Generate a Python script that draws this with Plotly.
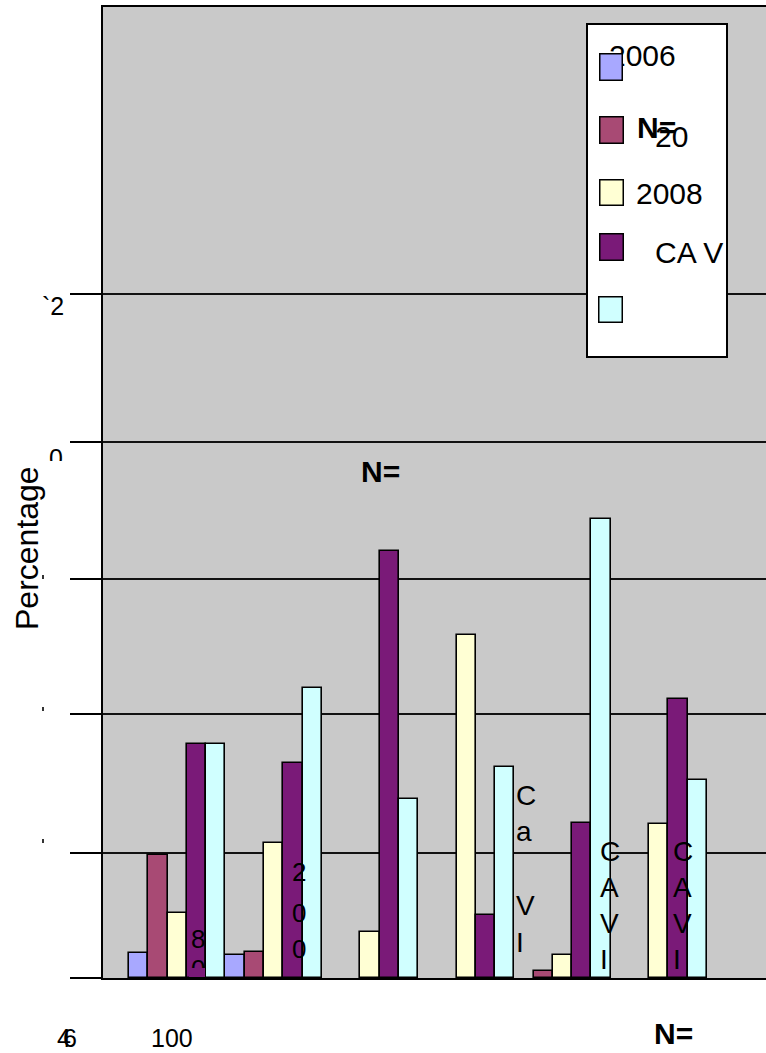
import plotly.graph_objects as go

# ---------------- data ----------------
categories = ["G1", "G2", "G3", "G4", "G5", "G6"]
series_names = ["2006", "N=20", "2008", "CA V", ""]
s2006 = [1.8, 1.7, None, None, None, None]
s_n20 = [9.0, 1.9, None, None, 0.5, None]
s2008 = [4.8, 9.9, 3.4, 25.2, 1.7, 11.3]
s_cav = [17.2, 15.8, 31.3, 4.6, 11.4, 20.5]
s_last = [17.2, 21.3, 13.1, 15.5, 33.7, 14.5]
series = [s2006, s_n20, s2008, s_cav, s_last]
colors = ["#a8a8ff", "#a84a74", "#ffffd4", "#7a1a78", "#d0ffff"]
grid_vals = [0, 9.2, 19.4, 29.3, 39.3, 50.2]
y_title = "Percentage"
x_labels = ["100", "N="]

# ---------------- layout helpers ----------------
W, H = 766, 1053
L, R, T, B = 103, 0, 7, 75
PW = W - L - R
PH = H - T - B
FONT = "Liberation Sans, Arial, sans-serif"


def px(x):
    return (x - L) / PW


def py(y):
    return (H - B - y) / PH


annotations = []


def txt(s, x, y, size, bold=False, anchor="center", angle=0):
    annotations.append(dict(
        x=px(x), y=py(y), xref="paper", yref="paper", text=("<b>%s</b>" % s) if bold else s,
        showarrow=False, xanchor=anchor, yanchor="middle", textangle=angle,
        font=dict(size=size, color="black", family=FONT)))


def box(x0, y0, x1, y1, color, border=0):
    annotations.append(dict(
        x=px((x0 + x1) / 2), y=py((y0 + y1) / 2), xref="paper", yref="paper", text=" ",
        showarrow=False, xanchor="center", yanchor="middle",
        width=x1 - x0, height=y1 - y0, borderpad=0, bgcolor=color,
        bordercolor="black", borderwidth=border, font=dict(size=4)))


fig = go.Figure()
for name, vals, col in zip(series_names, series, colors):
    fig.add_trace(go.Bar(x=categories, y=vals, name=name, marker=dict(color=col, line=dict(color="black", width=1.6)),
                         showlegend=False))

# legend (drawn manually)
shapes = [dict(type="rect", xref="paper", yref="paper", x0=px(587), x1=px(727), y0=py(24), y1=py(357),
               fillcolor="white", line=dict(color="black", width=2), layer="above")]
for (xd, yd) in [(43, 577), (43, 709), (43, 841)]:
    shapes.append(dict(type="rect", xref="paper", yref="paper", x0=px(xd - 1), x1=px(xd + 1),
                       y0=py(yd - 2), y1=py(yd + 2), fillcolor="#333", line=dict(width=0)))

txt("2006", 642, 55, 30)
box(600, 55, 621, 80, colors[0], 1.5)
txt("N=", 656, 127, 30, bold=True)
txt("20", 671, 137, 30)
box(600, 118, 622, 143, colors[1], 1.5)
txt("2008", 669, 193, 30)
box(600, 180, 622, 204, colors[2], 1.5)
txt("CA V", 689, 252, 30)
box(600, 235, 622, 260, colors[3], 1.5)
box(599, 297, 621, 321, colors[4], 1.5)

# in-plot texts
txt("N=", 380, 471, 30, bold=True)
for ch, yy in [("C", 795), ("a", 831), ("V", 905), ("I", 942)]:
    txt(ch, 514, yy, 28, anchor="left")
for ch, yy in [("C", 851), ("A", 888), ("V", 923), ("I", 959)]:
    txt(ch, 598, yy, 28, anchor="left")
for ch, yy in [("C", 851), ("A", 888), ("V", 923), ("I", 959)]:
    txt(ch, 671, yy, 28, anchor="left")
for ch, yy in [("2", 872), ("0", 913), ("0", 949)]:
    txt(ch, 290, yy, 26, anchor="left")
txt("8", 189, 939, 26, anchor="left")
txt("0", 189, 969, 26, anchor="left")
box(189, 968, 205, 977, colors[3])

# axis-side texts
txt("`2", 40, 306, 25, anchor="left")
txt("0", 56, 458, 25)
box(46, 461, 66, 472, "white")
txt(y_title, 27, 548, 32, angle=-90)
txt("4", 64, 1038, 25)
txt("6", 70, 1038, 25)
txt(x_labels[0], 172, 1038, 25)
txt(x_labels[1], 673, 1033, 30, bold=True)

fig.update_layout(
    width=W, height=H, margin=dict(l=L, r=R, t=T, b=B, pad=0),
    paper_bgcolor="white", plot_bgcolor="#c9c9c9",
    barmode="group", bargap=0, bargroupgap=0,
    showlegend=False, annotations=annotations, shapes=shapes,
    xaxis=dict(range=[-0.772, 6.113], showticklabels=False, ticks="", showgrid=False,
               showline=True, linecolor="black", linewidth=1.5, mirror=True, zeroline=False),
    yaxis=dict(range=[0, PH / 13.63], tickmode="array", tickvals=grid_vals, showticklabels=False,
               ticks="outside", ticklen=31, tickwidth=1.5, tickcolor="black",
               showgrid=True, gridcolor="#111", gridwidth=1.5,
               showline=True, linecolor="black", linewidth=1.5, zeroline=False),
)

fig.write_html("out.html", config={"displayModeBar": False},
               post_script="document.body.style.margin='0px';document.body.style.overflow='hidden';")
